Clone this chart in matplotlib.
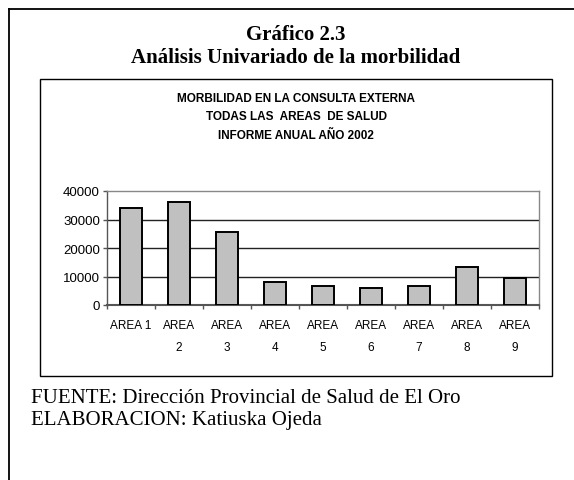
import matplotlib.pyplot as plt
from matplotlib.lines import Line2D
from matplotlib.patches import Rectangle

# data
areas = ["AREA 1", "AREA\n2", "AREA\n3", "AREA\n4", "AREA\n5",
         "AREA\n6", "AREA\n7", "AREA\n8", "AREA\n9"]
casos = [34000, 36100, 25600, 8100, 6700, 6000, 6700, 13300, 9500]
y_ticks = [0, 10000, 20000, 30000, 40000]

titulo = "Gráfico 2.3"
subtitulo = "Análisis Univariado de la morbilidad"
titulo_chart = ["MORBILIDAD EN LA CONSULTA EXTERNA",
                "TODAS LAS  AREAS  DE SALUD",
                "INFORME ANUAL AÑO 2002"]
fuente = "FUENTE: Dirección Provincial de Salud de El Oro"
elaboracion = "ELABORACION: Katiuska Ojeda"

W, H = 574, 481
fig = plt.figure(figsize=(W / 100, H / 100), dpi=100)


def fx(px):
    return px / W


def fy(py):
    return 1 - py / H


# outer frame (top + left only)
fig.add_artist(Line2D([fx(9), fx(574)], [fy(10), fy(10)], color="black", lw=1.3))
fig.add_artist(Line2D([fx(9), fx(9)], [fy(10), fy(481)], color="black", lw=1.3))

# inner chart box
fig.add_artist(Rectangle((fx(40), fy(377)), fx(552) - fx(40), fy(80) - fy(377),
                         fill=False, edgecolor="black", lw=1.0))

serif = ["Liberation Serif", "DejaVu Serif"]
sans = ["Liberation Sans", "DejaVu Sans"]

fig.text(fx(296), fy(40), titulo, ha="center", va="baseline",
         fontsize=15, fontweight="bold", family=serif)
fig.text(fx(296), fy(63), subtitulo, ha="center", va="baseline",
         fontsize=15, fontweight="bold", family=serif)

for i, t in enumerate(titulo_chart):
    fig.text(fx(296), fy(102 + i * 18.5), t, ha="center", va="baseline",
             fontsize=8.5, fontweight="bold", family=sans)

fig.text(fx(31), fy(403), fuente, ha="left", va="baseline", fontsize=15, family=serif)
fig.text(fx(31), fy(425), elaboracion, ha="left", va="baseline", fontsize=15, family=serif)

# plot area
ax = fig.add_axes([fx(107), fy(306), fx(539) - fx(107), fy(192) - fy(306)])
x = list(range(len(areas)))
ax.bar(x, casos, width=0.44, color="#c0c0c0", edgecolor="black", lw=1.4, zorder=3)

ax.set_xlim(-0.5, len(areas) - 0.5)
ax.set_ylim(0, 40000)
ax.set_yticks(y_ticks)
ax.set_yticklabels([str(v) for v in y_ticks], family=sans, fontsize=9.5)
for v in y_ticks[1:-1]:
    ax.axhline(v, color="#222222", lw=1.0, zorder=1)

ax.set_xticks([i - 0.5 for i in range(len(areas) + 1)])
ax.set_xticklabels([])
ax.set_xticks(x, minor=True)
ax.set_xticklabels(areas, minor=True, family=sans, fontsize=8.5, linespacing=2.1)
ax.tick_params(axis="x", which="major", direction="out", length=3, width=1, color="#555555")
ax.tick_params(axis="x", which="minor", length=0, pad=10)
ax.tick_params(axis="y", direction="out", length=3, width=1, color="#555555", pad=2)

for s in ["top", "right"]:
    ax.spines[s].set_color("#888888")
    ax.spines[s].set_linewidth(1.0)
ax.spines["left"].set_color("#555555")
ax.spines["bottom"].set_color("#555555")
ax.spines["bottom"].set_linewidth(1.5)
ax.spines["left"].set_linewidth(1.0)

fig.savefig("out.png", dpi=100)
